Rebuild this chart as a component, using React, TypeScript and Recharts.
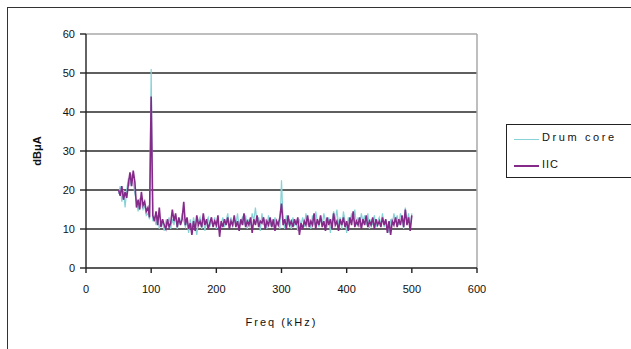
import {
  LineChart, Line, XAxis, YAxis, CartesianGrid, ReferenceLine, Label,
} from 'recharts';

// spectrum sampled every 2.5 kHz, 50..500 kHz
const startFreq = 50;
const stepFreq = 2.5;

const drumCore = [
  19, 21, 17, 20, 15.5, 20, 23, 21, 24, 22, 19, 17, 14.5, 18, 16.5, 15, 16, 13.5, 14, 12.5,
  51, 12, 13, 11, 13.5, 10, 12, 11.5, 9.5, 12, 11, 13, 10, 12.5, 11, 13.5, 10, 12, 11.5, 14,
  12, 10.5, 12, 9, 12.5, 10, 13, 11, 8.5, 12, 13, 10, 12.5, 9.5, 12, 13, 10.5, 12, 11, 13,
  10, 12, 9.5, 11.5, 13, 10.5, 12, 14, 11, 13, 10.5, 12.5, 11, 14, 10.5, 12, 13, 11, 13.5, 10,
  12.5, 11, 14, 12, 15.5, 11.5, 13, 9.5, 14, 11, 12.5, 10, 13.5, 11, 12, 10.5, 13, 11.5, 12, 10,
  22.5, 12, 10, 13.5, 11, 12.5, 10, 13, 11, 12, 9.5, 12.5, 11, 13, 10.5, 14, 11, 12.5, 10, 13.5,
  11, 14.5, 12, 10.5, 13, 11, 14, 12, 10.5, 13, 9, 12, 14.5, 12, 15, 11, 13, 10, 14.5, 12,
  9, 13, 11.5, 14, 12, 15, 11, 13, 10.5, 14, 12, 13.5, 11, 14, 10, 12.5, 11, 13.5, 10.5, 12,
  13, 11, 14, 10.5, 12.5, 11, 9, 12.5, 11, 14, 12, 13.5, 11, 14, 12.5, 10, 15.5, 12, 14, 10.5,
  14,
];

const iic = [
  20, 18.5, 21, 17.5, 19.5, 18, 21.5, 24.5, 21, 25, 22, 15.5, 17.5, 15, 19.5, 16, 17, 14.5, 15.5, 13,
  44, 13.5, 12, 14.5, 11, 15.5, 10.5, 12.5, 11, 10, 12.5, 10.5, 11.5, 15, 12, 14, 10.5, 13, 11, 12.5,
  17, 11, 13, 10, 11.5, 8.5, 12, 9.5, 13.5, 11, 12, 10.5, 14, 11, 12.5, 10, 11.5, 13, 10.5, 12,
  11, 13.5, 8, 12, 10.5, 12.5, 11, 13, 10, 12, 11, 13.5, 10.5, 12, 9.5, 12.5, 11, 14, 10.5, 12,
  11, 13, 9, 12.5, 11, 13.5, 10.5, 12, 11.5, 13, 10, 12, 11, 13, 10.5, 12.5, 9.5, 12, 11, 13,
  16.5, 11, 12.5, 10, 13.5, 11, 12, 10.5, 12.5, 11, 13, 8.5, 11.5, 10, 12, 11, 13.5, 10.5, 12, 11,
  14, 10, 12.5, 11, 13.5, 10.5, 12, 9.5, 13, 11, 12.5, 10, 14, 11, 12, 9.5, 12.5, 11, 13, 10.5,
  12, 9.5, 13, 11, 14.5, 10.5, 12, 11, 13, 10, 12.5, 11, 13.5, 10.5, 12, 11, 13, 10, 12.5, 11,
  12, 10.5, 13, 11, 12.5, 9, 12, 8.5, 12, 11, 13, 10.5, 12.5, 11, 13.5, 10.5, 15, 11, 13, 9.5,
  13.5,
];

const xTicks = [0, 100, 200, 300, 400, 500, 600];
const yTicks = [0, 10, 20, 30, 40, 50, 60];

const data = iic.map((v, i) => ({
  freq: startFreq + i * stepFreq,
  drum: drumCore[i],
  iic: v,
}));

const CYAN = '#86d2d6';
const PURPLE = '#862a8a';
const FONT = '"Liberation Sans", Arial, sans-serif';

function LegendBox() {
  return (
    <div
      style={{
        position: 'absolute',
        left: 506,
        top: 124,
        border: '1px solid #222',
        background: '#fff',
        width: 130,
        height: 54,
        fontFamily: FONT,
        fontSize: 11,
        color: '#111',
        boxSizing: 'border-box',
      }}
    >
      <div style={{ display: 'flex', alignItems: 'center', height: 13, marginTop: 5 }}>
        <span style={{ width: 25, height: 1, background: CYAN, marginLeft: 7, marginTop: 5 }} />
        <span style={{ marginLeft: 3, letterSpacing: 2.6 }}>Drum core</span>
      </div>
      <div style={{ display: 'flex', alignItems: 'center', height: 13, marginTop: 14 }}>
        <span style={{ width: 25, height: 1.5, background: PURPLE, marginLeft: 7, marginTop: 5 }} />
        <span style={{ marginLeft: 3, letterSpacing: 1 }}>IIC</span>
      </div>
    </div>
  );
}

export default function App() {
  return (
    <div style={{ position: 'absolute', left: 0, top: 0, width: 631, height: 349, background: '#fff', overflow: 'hidden' }}>
      {/* outer chart frame */}
      <div style={{ position: 'absolute', left: 7, top: 7, width: 640, height: 360, border: '1px solid #333' }} />
      <div style={{ position: 'absolute', left: 0, top: 0 }}>
        <LineChart width={631} height={349} data={data} margin={{ top: 34, right: 154, left: 26, bottom: 19 }}>
          <CartesianGrid horizontal vertical={false} stroke="#2a2a2a" strokeWidth={1.6} horizontalValues={[10, 20, 30, 40, 50]} />
          <ReferenceLine y={60} stroke="#a8a8a8" strokeWidth={1.5} />
          <ReferenceLine x={600} stroke="#a8a8a8" strokeWidth={1.5} />
          <XAxis
            dataKey="freq"
            type="number"
            domain={[0, 600]}
            ticks={xTicks}
            interval={0}
            height={62}
            stroke="#222"
            strokeWidth={1.4}
            tickSize={5}
            tickMargin={12}
            tick={{ fontSize: 11, fontFamily: FONT, fill: '#111' }}
          >
            <Label
              value="Freq (kHz)"
              position="insideBottom"
              offset={4}
              style={{ fontSize: 11, fontFamily: FONT, fill: '#111', letterSpacing: 2 }}
            />
          </XAxis>
          <YAxis
            type="number"
            domain={[0, 60]}
            ticks={yTicks}
            interval={0}
            width={60}
            stroke="#222"
            strokeWidth={1.4}
            tickSize={6}
            tickMargin={5}
            tick={{ fontSize: 11, fontFamily: FONT, fill: '#111' }}
          >
            <Label
              content={() => (
                <text
                  x={41}
                  y={151}
                  transform="rotate(-90 41 151)"
                  textAnchor="middle"
                  style={{ fontSize: 11, fontFamily: FONT, fontWeight: 'bold', fill: '#111' }}
                >
                  dBμA
                </text>
              )}
            />
          </YAxis>
          <Line type="linear" dataKey="drum" name="Drum core" stroke={CYAN} strokeWidth={1.2} dot={false} isAnimationActive={false} />
          <Line type="linear" dataKey="iic" name="IIC" stroke={PURPLE} strokeWidth={1.6} dot={false} isAnimationActive={false} />
        </LineChart>
      </div>
      <LegendBox />
    </div>
  );
}
